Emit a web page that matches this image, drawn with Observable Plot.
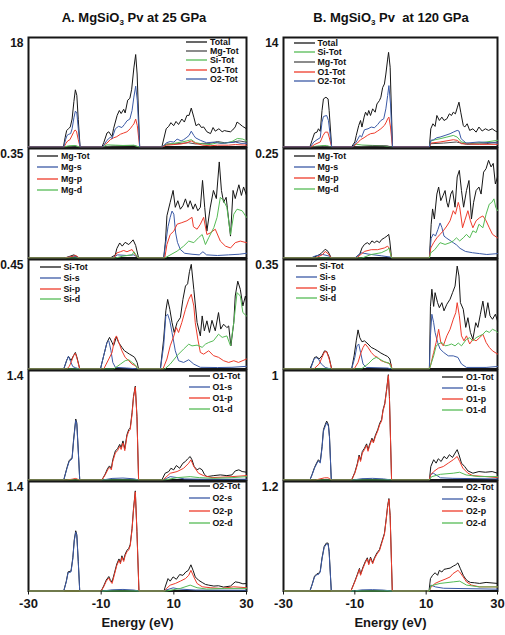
<!DOCTYPE html>
<html>
<head>
<meta charset="utf-8">
<script src="https://cdn.jsdelivr.net/npm/d3@7"></script>
<script src="https://cdn.jsdelivr.net/npm/@observablehq/plot@0.6"></script>
<style>
  html, body { margin: 0; padding: 0; background: #fff; }
  #stage { position: relative; width: 505px; height: 635px; overflow: hidden; background: #fff;
           font-family: "Liberation Sans", Arial, Helvetica, sans-serif; color: #111; }
  #stage > svg, #stage > figure { position: absolute; margin: 0; }
  .title { position: absolute; top: 10px; font-weight: bold; font-size: 13px; white-space: nowrap;
           transform: translateX(-50%); line-height: 16px; }
  .title sub { font-size: 8px; vertical-align: -3px; line-height: 0; }
  .lg { position: absolute; display: flex; align-items: center; height: 12px; font-weight: bold;
        font-size: 8.8px; line-height: 12px; white-space: nowrap; }
  .lg svg { display: block; margin-right: 2px; }
</style>
</head>
<body>
<div id="stage"></div>
<script>
// Projected densities of states (states/eV) versus energy (eV), MgSiO3 perovskite.
// Each series is a list of [energy, DOS] pairs; between bands the DOS is zero.

// ---------- A. 25 GPa ----------
// total and atom-projected DOS
const a1Total = [[-20.4,0],[-19.9,1.6],[-19.5,2.7],[-19,3.0],[-18.5,3.3],[-18,4.6],[-17.5,7.5],[-17.1,9.4],[-16.7,8.5],[-16.3,4.5],[-15.8,0],
  [-9.8,0],[-9.3,0.7],[-8.4,2.3],[-7.9,2.5],[-7.0,1.7],[-6.6,3.0],[-5.6,5.2],[-5.0,6.0],[-4.5,5.5],[-3.8,6.2],[-3.4,5.6],[-2.7,7.7],[-2.1,8.0],[-1.6,9.5],[-1.0,13.0],[-0.5,15.2],[-0.1,12.0],[0.6,0],
  [6.7,0],[7.9,3.0],[8.6,3.4],[9.2,4.0],[9.95,3.5],[10.6,4.2],[11.3,3.7],[12.2,4.6],[12.9,4.1],[13.6,5.2],[14.2,5.2],[14.8,6.4],[15.5,4.9],[16.1,3.5],[16.9,3.8],[17.6,3.2],[18.2,3.3],[19.1,2.5],[20.1,2.2],[20.8,3.2],[21.4,2.6],[22.4,3.0],[23.3,2.5],[23.9,2.7],[24.6,2.6],[25.6,2.5],[26.2,2.8],[26.9,3.3],[27.4,4.1],[28.1,3.8],[28.9,3.4],[30,3.0]];
const a1Mg = [[-20,0],[-18,0.1],[-17,0.15],[-16,0],
  [-9.5,0],[-7,0.15],[-4,0.2],[-1,0.25],[0.4,0],
  [6.8,0],[8,0.5],[10,0.5],[12,0.6],[14,0.7],[16,0.5],[18,0.6],[20,0.6],[22,0.9],[24,0.7],[26,0.8],[28,1.0],[30,0.8]];
const a1Si = [[-20.2,0],[-19,0.2],[-17.2,0.25],[-15.9,0],
  [-9.6,0],[-8.4,0.35],[-6,0.3],[-4,0.25],[-1,0.3],[0.5,0],
  [6.8,0],[8,0.4],[10,0.6],[12,0.8],[13.6,1.0],[14.8,1.2],[16,0.7],[18,0.5],[20,0.4],[22,0.7],[24,0.6],[26,0.9],[27.5,1.4],[29,1.3],[30,1.0]];
const a1O1 = [[-20.2,0],[-19.7,0.6],[-19.2,1.0],[-18.6,1.2],[-18.1,1.8],[-17.6,2.4],[-17.2,2.8],[-16.8,2.6],[-16.3,1.2],[-15.8,0],
  [-9.6,0],[-9.3,0.3],[-8.4,0.65],[-7.5,1.2],[-6.6,1.5],[-5.7,1.7],[-4.7,2.1],[-3.8,2.3],[-2.9,2.5],[-2.0,3.0],[-1.4,3.5],[-1.0,3.8],[-0.5,4.6],[-0.05,3.5],[0.6,0],
  [6.8,0],[8,0.3],[10,0.4],[12,0.5],[13.6,0.7],[14.8,1.0],[16,0.6],[18,0.3],[20,0.2],[22,0.3],[25,0.3],[27,0.4],[30,0.3]];
const a1O2 = [[-20.3,0],[-19.8,1.2],[-19.4,1.9],[-18.9,2.1],[-18.4,2.2],[-18,3.0],[-17.5,4.8],[-17.1,5.9],[-16.7,5.6],[-16.3,3.0],[-15.8,0],
  [-9.6,0],[-8.4,1.1],[-7.5,1.6],[-7.0,1.4],[-6.1,3.0],[-5.2,3.4],[-4.3,3.2],[-3.6,3.7],[-2.9,4.3],[-2.1,4.6],[-1.5,6.0],[-1.0,8.2],[-0.5,10.0],[-0.05,7.6],[0.6,0],
  [6.8,0],[8,0.7],[9,0.9],[10,0.8],[10.9,1.3],[12,1.0],[12.7,1.2],[13.6,1.6],[14.2,1.9],[14.8,2.6],[15.5,1.9],[16,1.5],[17.3,1.1],[19,0.7],[21,0.8],[23,0.6],[25,0.7],[27,0.8],[28.5,0.6],[30,0.6]];

// Mg orbitals
const a2Tot = [[-20,0],[-18.5,0.006],[-17.5,0.01],[-16,0],
  [-7.5,0],[-6.1,0.01],[-5.7,0.03],[-4.9,0.048],[-4.2,0.038],[-3.4,0.05],[-2.4,0.043],[-1.2,0.058],[-0.5,0.04],[0.3,0],
  [7.2,0],[7.7,0.054],[8.1,0.135],[9.0,0.178],[9.8,0.216],[10.4,0.162],[11.1,0.183],[11.8,0.156],[12.5,0.167],[13.2,0.189],[13.9,0.162],[14.5,0.183],[15.3,0.156],[15.9,0.173],[16.6,0.151],[17.3,0.162],[17.9,0.248],[18.5,0.162],[19.1,0.086],[20.0,0.16],[20.9,0.216],[21.7,0.19],[22.5,0.307],[23.1,0.216],[23.7,0.178],[24.4,0.194],[25.6,0.07],[26.3,0.216],[26.9,0.19],[27.9,0.234],[28.6,0.2],[29.2,0.227],[30,0.2]];
const a2S = [[-20,0],[-18.5,0.004],[-17.5,0.006],[-16,0],
  [-7,0],[-5.5,0.01],[-3,0.008],[-1,0.01],[0.3,0],
  [7.2,0],[7.8,0.05],[8.4,0.1],[9.0,0.13],[9.5,0.15],[10.0,0.14],[10.5,0.08],[11.0,0.05],[11.8,0.027],[13,0.015],[15,0.012],[17,0.01],[18,0.02],[19,0.01],[22,0.008],[25,0.01],[28,0.012],[30,0.015]];
const a2P = [[-20,0],[-18,0.005],[-17,0.008],[-16,0],
  [-6.5,0],[-5.7,0.016],[-4.7,0.02],[-3.8,0.024],[-2.9,0.02],[-1.5,0.027],[-0.6,0.01],[0.2,0],
  [7.5,0],[8.1,0.043],[9.0,0.075],[10.0,0.086],[10.9,0.108],[12.2,0.113],[13.6,0.119],[15.0,0.13],[15.4,0.1],[16.4,0.092],[17.3,0.108],[18.2,0.13],[19.1,0.075],[20.0,0.08],[21.4,0.092],[22.8,0.054],[24.2,0.038],[25.6,0.032],[26.9,0.049],[28.3,0.054],[30,0.049]];
const a2D = [[-6,0],[-4,0.006],[-1.5,0.01],[-1,0.02],[0.2,0],
  [7.5,0],[10.9,0.022],[12.7,0.038],[14.1,0.054],[15.5,0.049],[16.8,0.065],[17.8,0.075],[18.7,0.043],[19.6,0.065],[21.0,0.097],[21.9,0.13],[22.8,0.194],[23.7,0.183],[24.6,0.162],[25.6,0.075],[26.5,0.14],[27.4,0.156],[28.8,0.151],[30,0.13]];

// Si orbitals
const a3Tot = [[-20.3,0],[-19.5,0.035],[-19.0,0.052],[-18.3,0.035],[-17.6,0.055],[-17.1,0.068],[-16.6,0.045],[-15.9,0],
  [-10.2,0],[-9.3,0.055],[-8.4,0.109],[-7.7,0.13],[-7.0,0.109],[-6.6,0.095],[-5.8,0.132],[-5.2,0.109],[-4.3,0.089],[-3.6,0.075],[-2.9,0.068],[-2.2,0.061],[-1.5,0.055],[-0.8,0.048],[-0.1,0.027],[0.3,0],
  [6.3,0],[7.2,0.123],[7.8,0.239],[8.3,0.286],[8.9,0.245],[9.5,0.191],[10.1,0.15],[10.9,0.191],[11.8,0.211],[12.5,0.286],[13.2,0.341],[13.8,0.35],[14.3,0.4],[14.8,0.43],[15.5,0.327],[16.4,0.191],[17.3,0.136],[17.8,0.218],[18.4,0.157],[19.1,0.198],[19.8,0.15],[20.5,0.2],[21.4,0.157],[22.3,0.232],[22.9,0.164],[23.7,0.184],[24.6,0.17],[25.1,0.177],[25.7,0.095],[26.5,0.191],[26.9,0.3],[27.6,0.361],[28.3,0.327],[29.0,0.259],[29.7,0.3],[30,0.28]];
const a3S = [[-20.3,0],[-19.5,0.035],[-19.0,0.052],[-18.4,0.03],[-17.8,0.01],[-17.0,0.005],[-16,0],
  [-10.2,0],[-9.3,0.055],[-8.4,0.109],[-7.9,0.116],[-7.3,0.075],[-6.8,0.027],[-6.1,0.007],[-3,0.004],[0.3,0],
  [6.3,0],[7.2,0.095],[7.8,0.218],[8.3,0.225],[8.9,0.198],[9.5,0.15],[10.4,0.075],[11.3,0.034],[12.7,0.027],[14.1,0.038],[15.5,0.02],[17.3,0.007],[22,0.006],[26,0.007],[30,0.011]];
const a3P = [[-19.5,0],[-18.8,0.01],[-18.2,0.03],[-17.6,0.055],[-17.1,0.065],[-16.6,0.04],[-15.9,0],
  [-9.3,0],[-7.9,0.041],[-7.0,0.068],[-6.3,0.123],[-5.8,0.136],[-5.2,0.112],[-4.3,0.075],[-3.4,0.048],[-2.4,0.034],[-1.5,0.02],[-0.6,0.014],[0.1,0],
  [7.0,0],[8.1,0.041],[9.0,0.095],[10.0,0.136],[10.7,0.17],[11.3,0.15],[12.2,0.191],[13.2,0.245],[14.1,0.286],[14.8,0.307],[15.5,0.259],[15.9,0.19],[16.6,0.123],[17.3,0.068],[18.2,0.061],[19.6,0.075],[20.9,0.055],[22.3,0.048],[23.7,0.034],[25.1,0.027],[26.5,0.034],[27.8,0.027],[30,0.041]];
const a3D = [[-6.6,0],[-4.7,0.02],[-3.4,0.034],[-2.4,0.038],[-1.5,0.027],[-0.6,0.017],[0.1,0],
  [7.5,0],[9.0,0.02],[10.9,0.055],[12.7,0.082],[14.1,0.102],[15.0,0.095],[16.4,0.098],[17.8,0.089],[18.7,0.102],[19.6,0.109],[20.9,0.116],[22.3,0.143],[23.3,0.13],[24.6,0.136],[25.6,0.095],[26.5,0.191],[27.4,0.314],[28.3,0.3],[29.0,0.232],[30,0.218]];

// O1 orbitals
const a4Tot = [[-20.3,0],[-19.4,0.16],[-18.8,0.25],[-18.0,0.285],[-17.6,0.51],[-17.0,0.78],[-16.7,0.73],[-16.2,0.29],[-15.9,0],
  [-9.8,0],[-8.9,0.075],[-8.2,0.15],[-7.7,0.18],[-7.2,0.15],[-6.8,0.26],[-6.1,0.37],[-5.5,0.4],[-4.9,0.455],[-4.5,0.415],[-4.0,0.5],[-3.5,0.4],[-2.9,0.58],[-2.4,0.645],[-2.0,0.665],[-1.5,0.86],[-1.1,1.07],[-0.6,1.2],[-0.15,0.81],[0.3,0],
  [6.7,0],[7.6,0.086],[8.6,0.108],[9.2,0.15],[9.95,0.13],[10.7,0.185],[11.6,0.15],[12.5,0.215],[13.2,0.237],[13.8,0.27],[14.5,0.3],[15.0,0.258],[15.6,0.172],[16.4,0.13],[17.1,0.15],[17.8,0.13],[18.4,0.073],[19.1,0.043],[21.0,0.056],[22.8,0.065],[24.6,0.056],[26.0,0.065],[26.9,0.116],[27.9,0.13],[28.8,0.108],[30,0.1]];
const a4S = [[-20.3,0],[-19.4,0.15],[-18.8,0.237],[-18.0,0.27],[-17.6,0.495],[-17.0,0.76],[-16.7,0.71],[-16.2,0.28],[-15.9,0],
  [-9.5,0],[-7,0.02],[-4,0.025],[-1,0.015],[0.3,0],
  [7,0],[8,0.02],[9.0,0.043],[11,0.03],[13,0.013],[17,0.01],[30,0.01]];
const a4P = [[-19.5,0],[-18,0.01],[-17,0.02],[-16,0],
  [-9.8,0],[-8.9,0.065],[-8.2,0.13],[-7.7,0.16],[-7.2,0.13],[-6.8,0.237],[-6.1,0.345],[-5.5,0.375],[-4.9,0.43],[-4.5,0.39],[-4.0,0.474],[-3.5,0.375],[-2.9,0.56],[-2.4,0.625],[-2.0,0.646],[-1.5,0.84],[-1.1,1.055],[-0.6,1.19],[-0.15,0.8],[0.3,0],
  [7.0,0],[9.0,0.086],[10.9,0.108],[12.7,0.15],[14.1,0.215],[14.7,0.258],[15.5,0.172],[16.8,0.086],[18.2,0.056],[20.5,0.03],[26,0.043],[30,0.056]];
const a4D = [[7.5,0],[10.9,0.03],[14.5,0.043],[17,0.03],[21,0.022],[26,0.03],[30,0.043]];

// O2 orbitals
const a5Tot = [[-20.3,0],[-19.6,0.125],[-19.1,0.245],[-18.3,0.255],[-17.8,0.425],[-17.4,0.655],[-17.0,0.77],[-16.7,0.72],[-16.3,0.38],[-15.9,0],
  [-10.0,0],[-9.3,0.065],[-8.6,0.14],[-7.9,0.185],[-7.5,0.145],[-7.0,0.115],[-6.4,0.22],[-5.7,0.345],[-5.1,0.41],[-4.7,0.365],[-4.3,0.45],[-3.8,0.395],[-3.4,0.47],[-2.9,0.52],[-2.4,0.545],[-2.0,0.595],[-1.5,0.8],[-1.1,1.05],[-0.6,1.28],[-0.15,0.76],[0.4,0],
  [7.3,0],[7.6,0.05],[8.4,0.159],[9.0,0.126],[9.8,0.18],[10.7,0.15],[11.6,0.21],[12.5,0.2],[13.3,0.243],[14.0,0.264],[14.7,0.335],[15.3,0.264],[15.9,0.18],[16.8,0.138],[17.8,0.109],[18.7,0.084],[19.6,0.075],[21,0.063],[22.3,0.067],[23.7,0.05],[25.6,0.063],[26.9,0.117],[27.9,0.109],[29.0,0.092],[30,0.096]];
const a5S = [[-20.3,0],[-19.6,0.117],[-19.1,0.234],[-18.3,0.243],[-17.8,0.41],[-17.4,0.64],[-17.0,0.753],[-16.7,0.703],[-16.3,0.368],[-15.9,0],
  [-9.5,0],[-7,0.015],[-4,0.02],[-1,0.012],[0.3,0],
  [7,0],[9.8,0.04],[11.5,0.025],[16,0.012],[30,0.01]];
const a5P = [[-10.0,0],[-9.3,0.054],[-8.6,0.126],[-7.9,0.167],[-7.5,0.126],[-7.0,0.096],[-6.4,0.2],[-5.7,0.326],[-5.1,0.39],[-4.7,0.347],[-4.3,0.431],[-3.8,0.377],[-3.4,0.452],[-2.9,0.502],[-2.4,0.527],[-2.0,0.578],[-1.5,0.787],[-1.1,1.038],[-0.6,1.268],[-0.15,0.745],[0.4,0],
  [7.5,0],[8.0,0.033],[9.0,0.075],[10.4,0.096],[11.8,0.126],[13.2,0.159],[14.1,0.2],[14.7,0.264],[15.5,0.18],[16.4,0.096],[17.8,0.054],[20,0.042],[23,0.033],[26.5,0.054],[30,0.042]];
const a5D = [[8,0],[11.8,0.033],[14.5,0.075],[16.4,0.042],[19,0.025],[24,0.033],[30,0.033]];

// ---------- B. 120 GPa ----------
const b1Total = [[-22.6,0],[-22.0,0.85],[-21.3,1.78],[-20.6,1.9],[-20.2,2.33],[-19.7,2.0],[-19.2,4.67],[-18.8,6.15],[-18.1,6.36],[-17.5,6.15],[-17.2,4.67],[-16.5,0],
  [-10.95,0],[-10.0,0.64],[-9.6,1.48],[-8.9,2.76],[-8.4,3.39],[-8.0,2.55],[-7.4,3.82],[-7.0,4.45],[-6.5,4.03],[-6.1,4.67],[-5.6,4.03],[-5.0,4.88],[-4.3,4.45],[-3.8,5.5],[-3.1,5.94],[-2.7,6.36],[-2.2,7.6],[-1.7,8.06],[-1.3,9.33],[-0.8,11.24],[-0.54,12.1],[-0.1,10.2],[0.56,0],
  [10.9,0],[11.3,2.33],[11.9,2.97],[12.5,2.63],[13.0,4.03],[13.7,3.39],[14.4,3.82],[15.0,3.39],[15.8,3.6],[16.5,4.24],[17.1,4.03],[17.6,4.45],[18.2,4.24],[18.7,5.0],[19.2,5.73],[19.7,4.45],[20.4,2.76],[20.8,2.55],[21.5,2.97],[22.2,2.12],[23.1,2.33],[24.0,1.9],[24.8,2.55],[25.7,2.04],[26.6,2.33],[27.5,2.12],[28.5,2.33],[29.4,2.04],[30,1.9]];
const b1Si = [[-22.5,0],[-20,0.15],[-18,0.2],[-16.6,0],
  [-10.8,0],[-9.6,0.35],[-8,0.25],[-5,0.2],[-2,0.15],[0.4,0],
  [10.9,0],[11.3,0.76],[12.5,0.93],[13.9,1.06],[15.8,1.27],[17.6,1.48],[18.7,1.27],[19.9,0.64],[22.2,0.42],[26.8,0.64],[30,0.85]];
const b1Mg = [[-22.5,0],[-19,0.08],[-16.6,0],
  [-10.5,0],[-6,0.12],[-1,0.15],[0.4,0],
  [10.9,0],[11.3,0.42],[14.9,0.5],[18.5,0.64],[21.3,0.34],[26.8,0.42],[30,0.64]];
const b1O1 = [[-22.3,0],[-21.2,0.34],[-19.7,0.64],[-18.9,1.48],[-18.3,1.9],[-17.6,1.9],[-17.2,1.27],[-16.5,0],
  [-10.7,0],[-9.3,0.5],[-8.4,0.93],[-7.4,1.19],[-6.5,1.48],[-5.6,1.7],[-4.5,1.78],[-3.6,2.04],[-2.7,2.33],[-1.7,2.76],[-1.2,3.18],[-0.8,3.6],[-0.45,3.82],[0.0,2.55],[0.56,0],
  [10.9,0],[11.3,0.5],[13.9,0.64],[17.6,0.93],[18.7,0.85],[19.9,0.42],[25,0.34],[30,0.34]];
const b1O2 = [[-22.5,0],[-21.5,0.64],[-20.6,0.93],[-19.7,1.19],[-19.2,3.18],[-18.8,3.9],[-17.9,4.03],[-17.4,3.39],[-16.5,0],
  [-10.7,0],[-9.6,0.64],[-8.6,1.48],[-8.1,1.27],[-7.3,2.2],[-6.3,2.33],[-5.4,2.55],[-4.5,2.46],[-3.6,2.88],[-2.7,3.39],[-1.9,3.6],[-1.3,4.88],[-0.8,6.58],[-0.45,7.85],[0.0,5.5],[0.56,0],
  [10.9,0],[11.3,0.85],[12.1,0.93],[13.0,1.19],[13.9,1.27],[15.3,1.48],[16.7,1.7],[17.6,1.9],[18.7,2.12],[19.2,2.04],[19.8,1.06],[21.2,0.5],[24.8,0.64],[30,0.5]];

const b2Tot = [[-22.3,0],[-20.5,0.005],[-19.5,0.01],[-18.3,0.02],[-17.5,0.015],[-16.6,0],
  [-10.0,0],[-8.6,0.009],[-8.0,0.023],[-7.3,0.031],[-6.5,0.035],[-5.9,0.031],[-5.2,0.039],[-4.5,0.035],[-3.8,0.039],[-3.1,0.035],[-2.5,0.042],[-1.7,0.046],[-1.0,0.05],[-0.5,0.054],[-0.2,0.039],[0.3,0],
  [10.9,0],[11.4,0.077],[11.8,0.112],[12.3,0.089],[13.0,0.146],[13.5,0.162],[14.1,0.131],[14.7,0.142],[15.3,0.154],[15.8,0.127],[16.2,0.116],[16.9,0.146],[17.4,0.154],[18.1,0.116],[18.7,0.185],[19.3,0.2],[19.9,0.154],[20.5,0.116],[21.3,0.154],[22.0,0.177],[22.7,0.089],[23.3,0.127],[24.0,0.154],[24.8,0.162],[25.4,0.146],[26.1,0.196],[26.8,0.204],[27.5,0.223],[28.2,0.208],[28.8,0.216],[29.4,0.169],[30,0.185]];
const b2S = [[-22.3,0],[-21,0.005],[-19,0.008],[-17,0.004],[-16.6,0],
  [-10.0,0],[-8.2,0.012],[-6.3,0.009],[-2.6,0.005],[0.1,0.002],[0.3,0],
  [10.9,0],[11.4,0.045],[12.0,0.055],[12.6,0.05],[13.3,0.065],[13.9,0.08],[14.4,0.07],[15.0,0.05],[15.8,0.045],[16.7,0.04],[17.6,0.035],[18.5,0.03],[19.5,0.022],[21,0.015],[23,0.012],[25,0.01],[27,0.008],[30,0.01]];
const b2P = [[-21,0],[-19,0.008],[-18.3,0.015],[-17.5,0.01],[-16.6,0],
  [-9.5,0],[-7.3,0.015],[-5.4,0.019],[-3.6,0.019],[-1.7,0.023],[-0.8,0.027],[-0.4,0.023],[0.3,0],
  [10.9,0],[11.3,0.023],[12.1,0.035],[13.0,0.046],[13.9,0.054],[14.8,0.062],[15.8,0.073],[16.7,0.085],[17.6,0.108],[18.2,0.1],[19.0,0.127],[19.4,0.116],[20.2,0.069],[20.8,0.085],[21.7,0.108],[22.4,0.085],[23.1,0.069],[24.0,0.085],[25.0,0.092],[25.9,0.096],[26.8,0.085],[27.7,0.069],[28.6,0.054],[30,0.046]];
const b2D = [[-8.0,0],[-5.4,0.008],[-2.6,0.012],[-0.8,0.019],[-0.4,0.023],[0.3,0],
  [10.9,0],[11.3,0.012],[12.4,0.019],[13.9,0.035],[15.3,0.031],[16.7,0.035],[17.6,0.039],[18.5,0.046],[19.4,0.039],[20.4,0.046],[21.3,0.054],[22.2,0.046],[23.1,0.062],[24.0,0.058],[24.8,0.077],[25.9,0.069],[26.8,0.1],[27.7,0.123],[28.4,0.127],[29.0,0.135],[29.5,0.116],[30,0.108]];

const b3Tot = [[-22.6,0],[-22.0,0.016],[-21.3,0.037],[-20.6,0.039],[-20.0,0.032],[-19.2,0.042],[-18.5,0.058],[-17.9,0.056],[-17.2,0.037],[-16.5,0],
  [-10.9,0],[-10.2,0.042],[-9.6,0.09],[-9.1,0.125],[-8.6,0.1],[-8.0,0.087],[-7.3,0.09],[-6.3,0.08],[-5.4,0.069],[-4.5,0.064],[-3.6,0.058],[-2.7,0.051],[-1.7,0.045],[-0.8,0.04],[-0.2,0.032],[0.4,0],
  [10.9,0],[11.2,0.2],[11.6,0.255],[12.1,0.2],[12.5,0.244],[13.2,0.212],[13.7,0.196],[14.4,0.212],[15.0,0.186],[15.8,0.207],[16.7,0.223],[17.4,0.244],[18.1,0.265],[18.7,0.329],[19.2,0.297],[19.6,0.212],[20.4,0.191],[21.1,0.133],[21.7,0.164],[22.4,0.117],[23.1,0.095],[23.9,0.148],[24.5,0.133],[25.2,0.175],[25.9,0.217],[26.6,0.164],[27.3,0.212],[27.9,0.17],[28.6,0.159],[29.4,0.175],[30,0.154]];
const b3S = [[-22.4,0],[-21.5,0.03],[-20.9,0.037],[-20.2,0.032],[-19.4,0.016],[-18.3,0.005],[-16.8,0],
  [-10.9,0],[-10.0,0.037],[-9.4,0.074],[-8.9,0.08],[-8.4,0.053],[-7.7,0.016],[-6.8,0.005],[-0.8,0.003],[0.3,0],
  [10.9,0],[11.2,0.106],[11.6,0.175],[12.1,0.148],[12.5,0.117],[13.2,0.085],[13.9,0.064],[14.9,0.053],[16.2,0.042],[17.6,0.042],[18.9,0.037],[19.9,0.016],[21.3,0.005],[26.8,0.005],[30,0.008]];
const b3P = [[-21.5,0],[-20.0,0.016],[-19.2,0.037],[-18.5,0.055],[-17.9,0.055],[-17.2,0.032],[-16.5,0],
  [-10.2,0],[-9.1,0.021],[-8.4,0.048],[-7.7,0.069],[-7.1,0.08],[-6.3,0.069],[-5.4,0.053],[-4.5,0.042],[-3.6,0.037],[-2.7,0.027],[-1.3,0.021],[0.1,0.016],[0.4,0],
  [10.9,0],[11.2,0.01],[12.1,0.053],[12.8,0.085],[13.5,0.127],[14.1,0.085],[14.8,0.074],[15.8,0.106],[16.7,0.127],[17.6,0.159],[18.3,0.18],[18.7,0.212],[19.3,0.17],[19.9,0.106],[20.6,0.09],[21.3,0.106],[22.2,0.08],[23.1,0.095],[24.0,0.09],[25.0,0.1],[25.9,0.111],[26.8,0.085],[27.7,0.069],[28.6,0.058],[30,0.048]];
const b3D = [[-8.2,0],[-6.3,0.016],[-4.9,0.032],[-4.0,0.037],[-3.1,0.032],[-1.7,0.023],[-0.4,0.019],[0.4,0],
  [10.9,0],[11.2,0.01],[12.1,0.042],[12.8,0.074],[13.5,0.08],[14.4,0.085],[15.3,0.074],[16.2,0.076],[17.1,0.08],[18.1,0.074],[19.0,0.083],[19.9,0.074],[21.3,0.095],[22.2,0.1],[23.1,0.09],[24.0,0.1],[25.0,0.106],[25.9,0.111],[26.8,0.122],[27.7,0.117],[28.6,0.127],[29.5,0.122],[30,0.117]];

const b4Tot = [[-22.6,0],[-22.0,0.05],[-21.3,0.115],[-20.6,0.163],[-20.2,0.185],[-19.7,0.165],[-19.2,0.305],[-18.8,0.46],[-18.3,0.505],[-17.9,0.538],[-17.4,0.505],[-17.1,0.395],[-16.6,0],
  [-10.9,0],[-10.0,0.07],[-9.3,0.15],[-8.8,0.228],[-8.4,0.182],[-7.9,0.26],[-7.3,0.29],[-6.7,0.33],[-6.3,0.275],[-5.9,0.32],[-5.2,0.382],[-4.8,0.35],[-4.2,0.412],[-3.6,0.458],[-3.0,0.52],[-2.5,0.55],[-2.1,0.64],[-1.6,0.7],[-1.1,0.825],[-0.6,0.962],[-0.3,0.762],[0.3,0],
  [10.9,0],[11.3,0.123],[12.1,0.185],[12.8,0.154],[13.4,0.194],[14.2,0.169],[15.0,0.215],[15.8,0.194],[16.5,0.231],[17.4,0.206],[18.1,0.246],[18.7,0.277],[19.2,0.231],[19.9,0.154],[20.8,0.123],[21.7,0.083],[23.1,0.062],[24.8,0.077],[26.6,0.071],[28.5,0.077],[30,0.062]];
const b4S = [[-22.6,0],[-22.0,0.046],[-21.3,0.108],[-20.6,0.154],[-20.2,0.175],[-19.7,0.154],[-19.2,0.292],[-18.8,0.446],[-18.3,0.49],[-17.9,0.523],[-17.4,0.49],[-17.1,0.385],[-16.6,0],
  [-10.5,0],[-8,0.012],[-5,0.015],[-2,0.01],[0.3,0],
  [10.9,0],[11.3,0.05],[12.0,0.062],[12.8,0.046],[14.0,0.02],[17.5,0.015],[30,0.01]];
const b4P = [[-21,0],[-18.5,0.02],[-17.5,0.02],[-16.6,0],
  [-10.9,0],[-10.0,0.062],[-9.3,0.138],[-8.8,0.215],[-8.4,0.169],[-7.9,0.246],[-7.3,0.277],[-6.7,0.317],[-6.3,0.262],[-5.9,0.308],[-5.2,0.37],[-4.8,0.338],[-4.2,0.4],[-3.6,0.446],[-3.0,0.508],[-2.5,0.538],[-2.1,0.63],[-1.6,0.69],[-1.1,0.815],[-0.6,0.954],[-0.3,0.754],[0.3,0],
  [10.9,0],[11.2,0.046],[12.1,0.077],[13.4,0.108],[14.8,0.123],[16.2,0.154],[17.6,0.185],[18.7,0.215],[19.4,0.169],[20.3,0.108],[21.7,0.062],[23.1,0.04],[26.8,0.031],[30,0.022]];
const b4D = [[10.9,0],[11.5,0.03],[14.0,0.052],[17.6,0.062],[19.4,0.071],[21.2,0.046],[24.8,0.031],[30,0.031]];

const b5Tot = [[-22.6,0],[-22.0,0.07],[-21.3,0.162],[-20.6,0.19],[-20.2,0.19],[-19.7,0.218],[-19.2,0.362],[-18.6,0.488],[-18.0,0.525],[-17.5,0.525],[-17.2,0.433],[-16.6,0],
  [-11.1,0],[-10.0,0.108],[-9.3,0.182],[-8.7,0.248],[-8.4,0.183],[-7.7,0.263],[-7.1,0.32],[-6.5,0.364],[-6.1,0.3],[-5.6,0.371],[-5.0,0.31],[-4.5,0.364],[-3.8,0.417],[-3.1,0.453],[-2.4,0.543],[-1.7,0.632],[-1.2,0.793],[-0.8,0.935],[-0.45,1.013],[-0.1,0.828],[0.5,0],
  [10.8,0],[11.2,0.136],[11.8,0.172],[12.5,0.2],[13.2,0.172],[13.7,0.226],[14.4,0.208],[15.0,0.237],[15.8,0.244],[16.7,0.251],[17.6,0.273],[18.3,0.287],[18.9,0.308],[19.6,0.244],[20.4,0.172],[21.1,0.129],[21.7,0.108],[22.4,0.094],[23.6,0.09],[25.0,0.083],[26.8,0.094],[30,0.083]];
const b5S = [[-22.6,0],[-22.0,0.065],[-21.3,0.154],[-20.6,0.18],[-20.2,0.18],[-19.7,0.208],[-19.2,0.352],[-18.6,0.477],[-18.0,0.513],[-17.5,0.513],[-17.2,0.423],[-16.6,0],
  [-10.5,0],[-8,0.012],[-5,0.015],[-2,0.01],[0.3,0],
  [10.9,0],[11.3,0.065],[12.6,0.045],[14.9,0.03],[30,0.02]];
const b5P = [[-11.1,0],[-10.0,0.1],[-9.3,0.172],[-8.7,0.237],[-8.4,0.172],[-7.7,0.251],[-7.1,0.308],[-6.5,0.352],[-6.1,0.287],[-5.6,0.359],[-5.0,0.298],[-4.5,0.352],[-3.8,0.405],[-3.1,0.441],[-2.4,0.531],[-1.7,0.62],[-1.2,0.782],[-0.8,0.925],[-0.45,1.004],[-0.1,0.818],[0.5,0],
  [10.9,0],[11.3,0.04],[12.5,0.083],[13.9,0.108],[15.3,0.129],[16.7,0.154],[17.5,0.19],[18.9,0.226],[19.4,0.208],[20.4,0.154],[21.3,0.1],[22.7,0.065],[25,0.045],[30,0.045]];
const b5D = [[10.9,0],[11.3,0.057],[13.9,0.083],[17.6,0.1],[19.4,0.108],[21.3,0.065],[24.8,0.045],[30,0.045]];

// axis tick values
const energyTicks = [-30, -10, 10, 30];
const titles = ["A. MgSiO<sub>3</sub> Pv at 25 GPa", "B. MgSiO<sub>3</sub> Pv&nbsp; at 120 GPa"];

// ---------- styling and layout ----------
const INK = "#161616", GREY = "#4c4c4c", BLUE = "#3b5aa6", RED = "#ee3b2b", GREEN = "#55bb55";
const FONT = '"Liberation Sans", Arial, Helvetica, sans-serif';

const panels = [
  {col: 0, row: 0, ymax: 18,   curves: [["Total", a1Total, INK], ["Mg-Tot", a1Mg, GREY], ["Si-Tot", a1Si, GREEN], ["O1-Tot", a1O1, RED], ["O2-Tot", a1O2, BLUE]], lg: [186, 41.7, 9.3]},
  {col: 0, row: 1, ymax: 0.35, curves: [["Mg-Tot", a2Tot, INK], ["Mg-s", a2S, BLUE], ["Mg-p", a2P, RED], ["Mg-d", a2D, GREEN]], lg: [37, 156, 11.3]},
  {col: 0, row: 2, ymax: 0.45, curves: [["Si-Tot", a3Tot, INK], ["Si-s", a3S, BLUE], ["Si-p", a3P, RED], ["Si-d", a3D, GREEN]], lg: [39.5, 266.7, 10.9]},
  {col: 0, row: 3, ymax: 1.4,  curves: [["O1-Tot", a4Tot, INK], ["O1-s", a4S, BLUE], ["O1-p", a4P, RED], ["O1-d", a4D, GREEN]], lg: [188.5, 375.5, 11.3]},
  {col: 0, row: 4, ymax: 1.4,  curves: [["O2-Tot", a5Tot, INK], ["O2-s", a5S, BLUE], ["O2-p", a5P, RED], ["O2-d", a5D, GREEN]], lg: [188.5, 486, 12.4]},
  {col: 1, row: 0, ymax: 14,   curves: [["Total", b1Total, INK], ["Si-Tot", b1Si, GREEN], ["Mg-Tot", b1Mg, GREY], ["O1-Tot", b1O1, RED], ["O2-Tot", b1O2, BLUE]], lg: [293.5, 42.7, 9.6]},
  {col: 1, row: 1, ymax: 0.25, curves: [["Mg-Tot", b2Tot, INK], ["Mg-s", b2S, BLUE], ["Mg-p", b2P, RED], ["Mg-d", b2D, GREEN]], lg: [293.5, 155.7, 11.2]},
  {col: 1, row: 2, ymax: 0.35, curves: [["Si-Tot", b3Tot, INK], ["Si-s", b3S, BLUE], ["Si-p", b3P, RED], ["Si-d", b3D, GREEN]], lg: [295.5, 265.7, 10.9]},
  {col: 1, row: 3, ymax: 1,    curves: [["O1-Tot", b4Tot, INK], ["O1-s", b4S, BLUE], ["O1-p", b4P, RED], ["O1-d", b4D, GREEN]], lg: [442, 376.7, 11.1]},
  {col: 1, row: 4, ymax: 1.2,  curves: [["O2-Tot", b5Tot, INK], ["O2-s", b5S, BLUE], ["O2-p", b5P, RED], ["O2-d", b5D, GREEN]], lg: [442, 486.7, 12]}
];

const colLeft = [0, 254], colMarginLeft = [28, 29], colMarginRight = [4, 7], svgWidth = 250;
const rowTop = [37, 148, 259, 370, 481], frameH = 109.5, pad = 3, bottomMargin = 46;

const stage = document.getElementById("stage");

// column titles
titles.forEach((t, i) => {
  const d = document.createElement("div");
  d.className = "title";
  d.style.left = (i === 0 ? 134 : 391) + "px";
  d.innerHTML = t;
  stage.appendChild(d);
});

// one Plot per panel, stacked in two columns
for (const p of panels) {
  const last = p.row === 4;
  const mb = last ? bottomMargin : pad;
  const marks = [Plot.frame({stroke: INK, strokeWidth: 2})];
  for (const [, data, color] of p.curves) {
    // zero baseline from the left edge of the energy window
    const pts = [[-30, 0], ...data];
    marks.push(Plot.line(pts, {x: d => d[0], y: d => d[1], stroke: color, strokeWidth: 1}));
  }
  marks.push(Plot.axisY({ticks: [p.ymax], tickSize: 0, tickPadding: 5, tickFormat: d => String(d),
                         fontSize: 12, fontWeight: "bold", dy: 6, label: null}));
  if (last) {
    marks.push(Plot.axisX({ticks: energyTicks, tickSize: 4, tickPadding: 4, tickFormat: d => String(d),
                           fontSize: 13, fontWeight: "bold", label: "Energy (eV)", labelAnchor: "center",
                           labelArrow: "none", labelOffset: 36}));
  }
  const chart = Plot.plot({
    width: svgWidth,
    height: frameH + pad + mb,
    marginLeft: colMarginLeft[p.col],
    marginRight: colMarginRight[p.col],
    marginTop: pad,
    marginBottom: mb,
    x: {domain: [-30, 30], axis: last ? undefined : null},
    y: {domain: [0, p.ymax]},
    style: {fontFamily: FONT, fontWeight: "bold", color: INK, background: "transparent", overflow: "visible"},
    marks
  });
  chart.style.left = colLeft[p.col] + "px";
  chart.style.top = (rowTop[p.row] - pad) + "px";
  stage.appendChild(chart);
}

// legends drawn over each panel
for (const p of panels) {
  const [lx, y0, dy] = p.lg;
  p.curves.forEach(([name, , color], i) => {
    const row = document.createElement("div");
    row.className = "lg";
    row.style.left = lx + "px";
    row.style.top = (y0 + i * dy - 6) + "px";
    row.innerHTML = `<svg width="22" height="12"><line x1="0" x2="21" y1="6" y2="6" stroke="${color}" stroke-width="1.3"/></svg><span>${name}</span>`;
    stage.appendChild(row);
  });
}
</script>
</body>
</html>
